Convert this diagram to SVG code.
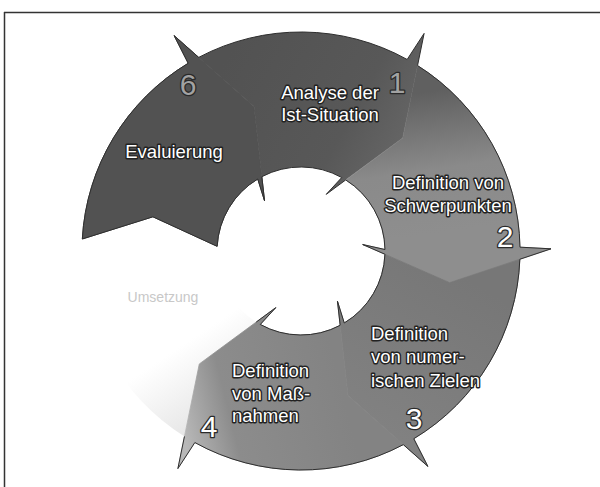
<svg xmlns="http://www.w3.org/2000/svg" width="600" height="487" viewBox="0 0 600 487">
<style>
.edge{fill:none;stroke:#2e2e2e;stroke-width:1}
.lbl{font-family:"Liberation Sans",Arial,sans-serif;font-size:18.5px;fill:#ffffff;stroke:#222;stroke-width:2.8;paint-order:stroke;stroke-linejoin:round}
.num{font-family:"Liberation Sans",Arial,sans-serif;font-size:30px;text-anchor:middle;stroke:#2a2a2a;stroke-width:2.6;paint-order:stroke;stroke-linejoin:round}
.frame{stroke:#333;stroke-width:1.5;fill:none}
</style>
<defs>
<linearGradient id="g1" gradientUnits="userSpaceOnUse" x1="220" y1="70" x2="420" y2="180"><stop offset="0" stop-color="#525252"/><stop offset="0.6" stop-color="#585858"/><stop offset="1" stop-color="#6c6c6c"/></linearGradient>
<linearGradient id="g2" gradientUnits="userSpaceOnUse" x1="440" y1="90" x2="460" y2="230"><stop offset="0" stop-color="#606060"/><stop offset="0.55" stop-color="#8a8a8a"/><stop offset="1" stop-color="#8e8e8e"/></linearGradient>
<linearGradient id="g3" gradientUnits="userSpaceOnUse" x1="470" y1="280" x2="370" y2="440"><stop offset="0" stop-color="#777"/><stop offset="1" stop-color="#828282"/></linearGradient>
<linearGradient id="g4" gradientUnits="userSpaceOnUse" x1="340" y1="380" x2="180" y2="420"><stop offset="0" stop-color="#838383"/><stop offset="0.7" stop-color="#8c8c8c"/><stop offset="1" stop-color="#b8b8b8"/></linearGradient>
<linearGradient id="g5" gradientUnits="userSpaceOnUse" x1="200" y1="420" x2="160" y2="360"><stop offset="0" stop-color="#e8e8e8"/><stop offset="1" stop-color="#ffffff"/></linearGradient>
</defs>
<rect width="600" height="487" fill="#ffffff"/>
<path class="frame" d="M4,12.5 H600 M4.5,12 V487"/>

<g id="seg5">
<path fill="url(#g5)" d="M184.46,436.42 A219,219 0 0 1 82,251 L51,248.82 L152.9,216.81 L239.24,256.4 L217,251 A84,84 0 0 0 256.24,322.08 L199.29,363.96 Z"/>
<text x="163" y="302" style="font-family:'Liberation Sans',Arial,sans-serif;font-size:14px;fill:#c8c8c8;text-anchor:middle">Umsetzung</text>
</g>

<g id="seg6">
<path fill="#525252" stroke="#525252" stroke-width="1" d="M82.33,238.97 A219,219 0 0 1 188.21,63.28 L174.11,35.59 L254.03,106.44 L264.56,200.84 L257.74,179 A84,84 0 0 0 217.13,246.31 L152.9,216.81 Z"/>
<path class="edge" d="M82.33,238.97 A219,219 0 0 1 188.21,63.28 L174.11,35.59 L198.67,57.38 M264.56,200.84 L257.74,179 A84,84 0 0 0 217.13,246.31 M82.33,238.97 L152.9,216.81 L217.13,246.31"/>
<text class="lbl" x="174" y="158" text-anchor="middle">Evaluierung</text>
<text class="num" x="188" y="95" fill="#a2a2a2">6</text>
</g>

<g id="seg1">
<path fill="url(#g1)" d="M198.67,57.38 A219,219 0 0 1 407.17,59.46 L424.11,33.41 L402.71,138.04 L326.22,194.36 L341.72,177.53 A84,84 0 0 0 261.81,176.7 L254.03,106.44 Z"/>
<path class="edge" d="M198.67,57.38 A219,219 0 0 1 407.17,59.46 L424.11,33.41 L417.54,65.58 M345.76,179.92 L326.22,194.36 L341.72,177.53 A84,84 0 0 0 261.81,176.7 L264.56,200.84"/>
<text class="lbl" x="330" y="99" text-anchor="middle">Analyse der</text>
<text class="lbl" x="330" y="121" text-anchor="middle">Ist-Situation</text>
<text class="num" x="397" y="93" fill="#a2a2a2">1</text>
</g>

<g id="seg2">
<path fill="url(#g2)" stroke="url(#g2)" stroke-width="0.8" d="M417.54,65.58 A219,219 0 0 1 519.97,247.18 L551,248.82 L449.68,282.6 L362.66,244.52 L384.99,249.53 A84,84 0 0 0 345.76,179.92 L402.71,138.04 Z"/>
<path class="edge" d="M417.54,65.58 A219,219 0 0 1 519.97,247.18 L551,248.82 L519.85,259.22 M384.94,254.22 L362.66,244.52 L384.99,249.53 A84,84 0 0 0 345.76,179.92"/>
<text class="lbl" x="448" y="189" text-anchor="middle">Definition von</text>
<text class="lbl" x="448" y="212" text-anchor="middle">Schwerpunkten</text>
<text class="num" x="505" y="247" fill="#ffffff">2</text>
</g>

<g id="seg3">
<path fill="url(#g3)" stroke="url(#g3)" stroke-width="0.8" d="M519.85,259.22 A219,219 0 0 1 413.79,438.72 L427.89,466.41 L347.97,395.56 L337.44,301.16 L344.26,323 A84,84 0 0 0 384.94,254.22 L449.68,282.6 Z"/>
<path class="edge" d="M519.85,259.22 A219,219 0 0 1 413.79,438.72 L427.89,466.41 L403.33,444.62 M340.19,325.3 L337.44,301.16 L344.26,323 A84,84 0 0 0 384.94,254.22"/>
<text class="lbl" x="371" y="340">Definition</text>
<text class="lbl" x="371" y="363">von numer-</text>
<text class="lbl" x="371" y="387">ischen Zielen</text>
<text class="num" x="414" y="429" fill="#ffffff">3</text>
</g>

<g id="seg4">
<path fill="url(#g4)" stroke="url(#g4)" stroke-width="0.8" d="M403.33,444.62 A219,219 0 0 1 194.83,442.54 L177.89,468.59 L199.29,363.96 L275.78,307.64 L260.28,324.47 A84,84 0 0 0 340.19,325.3 L347.97,395.56 Z"/>
<path class="edge" d="M403.33,444.62 A219,219 0 0 1 194.83,442.54 L177.89,468.59 L184.46,436.42 M256.24,322.08 L275.78,307.64 L260.28,324.47 A84,84 0 0 0 340.19,325.3"/>
<text class="lbl" x="232" y="377">Definition</text>
<text class="lbl" x="232" y="400">von Maß-</text>
<text class="lbl" x="232" y="422">nahmen</text>
<text class="num" x="209" y="437" fill="#ffffff">4</text>
</g>
</svg>
